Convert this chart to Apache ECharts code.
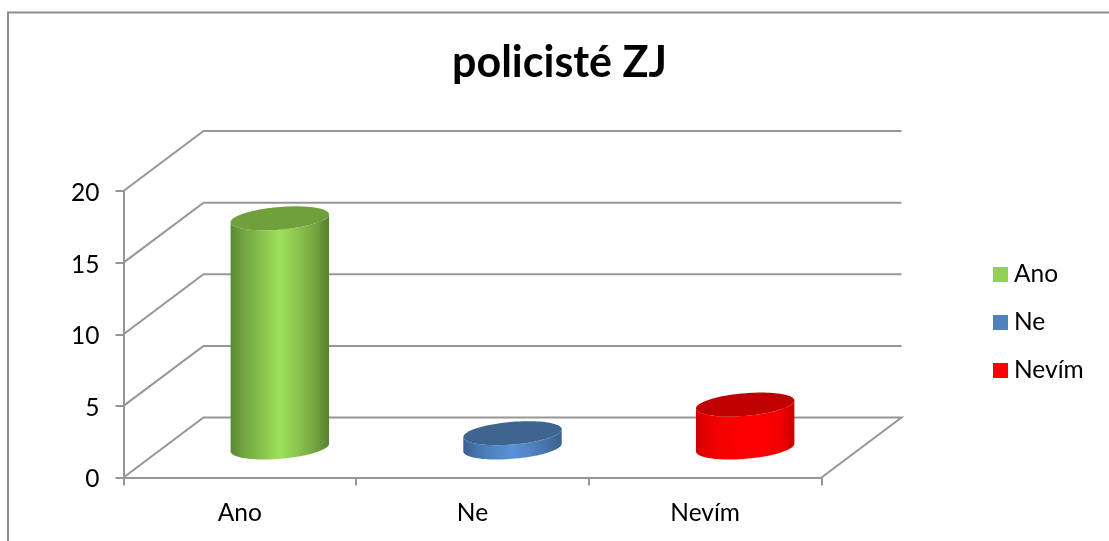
<!DOCTYPE html>
<html><head><meta charset="utf-8">
<style>html,body{margin:0;padding:0;background:#fff}#c{width:1109px;height:541px}</style>
<script src="https://cdn.jsdelivr.net/npm/echarts@6/dist/echarts.min.js"></script>
</head><body><div id="c"></div>
<script>
const chartTitle = 'policisté ZJ';
const categories = ['Ano', 'Ne', 'Nevím'];
const values = [16, 1, 3];
const yTicks = [0, 5, 10, 15, 20];
const swatches = ['#92d050', '#4f81bd', '#ff0000'];
const shadeStops = [0, 0.12, 0.3, 0.5, 0.7, 0.88, 1];
const bodyShades = [
  ['#5a8a30', '#70a340', '#86bf4b', '#9de05c', '#88c24c', '#70a03d', '#587f30'],
  ['#3a6192', '#4672a8', '#4f84c2', '#5a92d8', '#4f82c0', '#446fa4', '#38608e'],
  ['#d00000', '#e80000', '#f80000', '#ff0000', '#ff0000', '#ee0000', '#c80000']
];
const capColors = ['#70a03c', '#3d658f', '#c00000'];
const depth = [80, -60];
const radiusFraction = 0.2;
const gridColor = '#969696';
const lineW = 2;
const font = 'Lato, Carlito, sans-serif';

const chart = echarts.init(document.getElementById('c'), null, {renderer: 'canvas'});

function wallItem(params, api) {
  const v = api.value(1);
  const cs = params.coordSys;
  const p = api.coord([0, v]);
  const x0 = cs.x, x1 = cs.x + cs.width;
  const pts = [[x0, p[1]], [x0 + depth[0], p[1] + depth[1]], [x1 + depth[0], p[1] + depth[1]]];
  if (v === 0) pts.push([x1, p[1]]);
  return {type: 'polyline', shape: {points: pts},
    style: {stroke: gridColor, lineWidth: lineW, fill: null}};
}

function ring(cx, cy, w, from, to, n) {
  const out = [];
  const dx = depth[0] * radiusFraction, dy = depth[1] * radiusFraction;
  for (let i = 0; i <= n; i++) {
    const t = from + (to - from) * i / n;
    out.push([cx + w * Math.cos(t) + dx * Math.sin(t), cy + dy * Math.sin(t)]);
  }
  return out;
}

function cylinderItem(idx) {
  return function (params, api) {
    const i = api.value(0), v = api.value(1);
    const base = api.coord([i, 0]), top = api.coord([i, v]);
    const w = api.size([1, 0])[0] * radiusFraction;
    const cx = base[0] + depth[0] / 2;
    const by = base[1] + depth[1] / 2, ty = top[1] + depth[1] / 2;
    const tan = Math.atan2(depth[0] * radiusFraction, w);
    const lower = ring(cx, by, w, tan, tan - Math.PI, 48);
    const upper = ring(cx, ty, w, tan - Math.PI, tan, 48);
    const grad = new echarts.graphic.LinearGradient(0, 0, 1, 0,
      shadeStops.map((offset, k) => ({offset, color: bodyShades[idx][k]})));
    return {type: 'group', children: [
      {type: 'polygon', shape: {points: lower.concat(upper)}, style: {fill: grad}},
      {type: 'polygon', shape: {points: ring(cx, ty, w, 0, Math.PI * 2, 96)}, style: {fill: capColors[idx]}}
    ]};
  };
}

const series = [{
  type: 'custom', name: 'walls', silent: true, clip: false, z: 1,
  renderItem: wallItem,
  data: yTicks.map(t => [0, t])
}].concat(categories.map((name, i) => ({
  type: 'custom', name, clip: false, z: 3,
  itemStyle: {color: swatches[i]},
  renderItem: cylinderItem(i),
  encode: {x: 0, y: 1},
  data: [[i, values[i]]]
})));

chart.setOption({
  animation: false,
  backgroundColor: '#fff',
  textStyle: {fontFamily: font},
  title: {text: chartTitle, left: 452, top: 42, padding: 0,
    textStyle: {fontFamily: font, fontWeight: 'bold', fontSize: 43, color: '#000'}},
  legend: {
    data: categories, orient: 'vertical', left: 993, top: 262, padding: 0,
    itemWidth: 15, itemHeight: 15, itemGap: 23, icon: 'rect',
    textStyle: {fontFamily: font, fontSize: 24.5, color: '#000', padding: [0, 0, 0, 1]},
    selectedMode: false
  },
  grid: {left: 123.5, top: 191, width: 698, height: 286.5},
  xAxis: {
    type: 'category', data: categories, boundaryGap: true,
    axisLine: {lineStyle: {color: gridColor, width: lineW}},
    axisTick: {show: true, alignWithLabel: false, length: 8, lineStyle: {color: gridColor, width: lineW}},
    axisLabel: {fontFamily: font, fontSize: 24.5, color: '#000', margin: 23},
    splitLine: {show: false}
  },
  yAxis: {
    type: 'value', min: 0, max: 20, interval: 5,
    axisLine: {show: true, lineStyle: {color: gridColor, width: lineW}},
    axisTick: {show: true, length: 8, lineStyle: {color: gridColor, width: lineW}},
    axisLabel: {fontFamily: font, fontSize: 24.5, color: '#000', margin: 24, verticalAlign: 'top', lineHeight: 4},
    splitLine: {show: false}
  },
  graphic: [{
    type: 'polyline', silent: true, z: 0,
    shape: {points: [[8, 541], [8, 12.5], [1109, 12.5]]},
    style: {stroke: '#8c8c8c', lineWidth: 2, fill: null}
  }],
  series
});
</script></body></html>
